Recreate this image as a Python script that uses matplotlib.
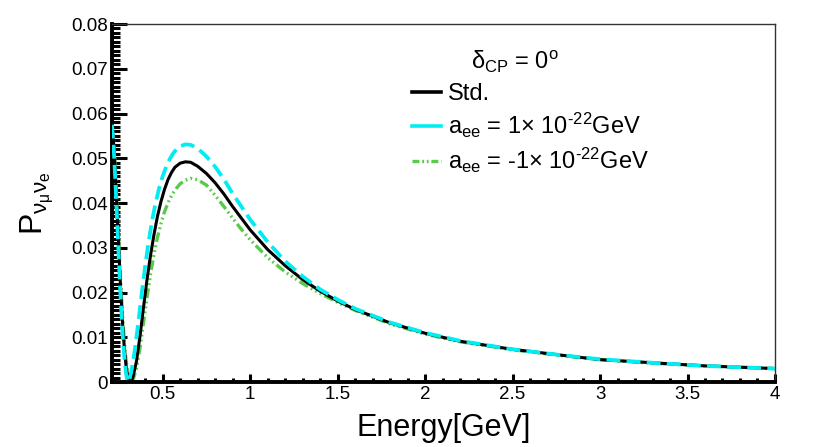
import matplotlib
matplotlib.use("Agg")
import matplotlib.pyplot as plt
from matplotlib.lines import Line2D
from matplotlib.ticker import MultipleLocator, FixedLocator

plt.rcParams["font.family"] = ["Liberation Sans", "DejaVu Sans"]
plt.rcParams["mathtext.fontset"] = "custom"
plt.rcParams["mathtext.rm"] = "Liberation Sans"
plt.rcParams["mathtext.it"] = "Liberation Sans"
plt.rcParams["mathtext.bf"] = "Liberation Sans:bold"
plt.rcParams["lines.scale_dashes"] = False
plt.rcParams["axes.unicode_minus"] = False

# standard oscillation
energy_std = [0.21, 0.22, 0.23, 0.24, 0.25, 0.26, 0.27, 0.28, 0.29, 0.30, 0.31, 0.315,
              0.32, 0.33, 0.35, 0.37, 0.39, 0.41, 0.43, 0.45, 0.47, 0.49, 0.51, 0.53,
              0.55, 0.57, 0.60, 0.63, 0.66, 0.70, 0.75, 0.80, 0.85, 0.90, 0.95, 1.0,
              1.1, 1.2, 1.3, 1.4, 1.5, 1.6, 1.8, 2.0, 2.2, 2.5, 2.8, 3.0, 3.3, 3.6, 4.0]
prob_std = [0.0570, 0.0530, 0.0460, 0.0375, 0.0288, 0.0205, 0.0135, 0.0079, 0.0038, 0.0013,
            0.0001, 0.0000, 0.0002, 0.0011, 0.0046, 0.0102, 0.0166, 0.0228, 0.0282, 0.0329,
            0.0370, 0.0403, 0.0430, 0.0452, 0.0468, 0.0480, 0.0489, 0.0492, 0.0491, 0.0482,
            0.0466, 0.0445, 0.0420, 0.0392, 0.0366, 0.0340, 0.0296, 0.0260, 0.0229, 0.0203,
            0.0181, 0.0162, 0.0132, 0.0109, 0.0091, 0.0073, 0.0059, 0.0050, 0.0043, 0.0036,
            0.0030]

# a_ee = +1e-22 GeV
energy_pos = [0.21, 0.22, 0.23, 0.24, 0.25, 0.26, 0.27, 0.28, 0.29, 0.297, 0.302, 0.31,
              0.32, 0.34, 0.36, 0.38, 0.40, 0.42, 0.44, 0.46, 0.48, 0.50, 0.52, 0.54,
              0.56, 0.58, 0.60, 0.63, 0.66, 0.70, 0.75, 0.80, 0.85, 0.90, 0.95, 1.0,
              1.1, 1.2, 1.3, 1.4, 1.5, 1.6, 1.8, 2.0, 2.2, 2.5, 2.8, 3.0, 3.3, 3.6, 4.0]
prob_pos = [0.0575, 0.0520, 0.0445, 0.0355, 0.0265, 0.0182, 0.0112, 0.0058, 0.0020, 0.0003,
            0.0000, 0.0006, 0.0022, 0.0070, 0.0132, 0.0198, 0.0260, 0.0315, 0.0362, 0.0401,
            0.0434, 0.0460, 0.0481, 0.0498, 0.0511, 0.0521, 0.0527, 0.0531, 0.0530, 0.0522,
            0.0504, 0.0481, 0.0453, 0.0421, 0.0392, 0.0363, 0.0313, 0.0270, 0.0236, 0.0207,
            0.0184, 0.0164, 0.0133, 0.0110, 0.0092, 0.0073, 0.0059, 0.0051, 0.0043, 0.0036,
            0.0030]

# a_ee = -1e-22 GeV
energy_neg = [0.21, 0.22, 0.23, 0.24, 0.25, 0.26, 0.27, 0.28, 0.29, 0.30, 0.31, 0.32,
              0.33, 0.35, 0.37, 0.39, 0.41, 0.43, 0.45, 0.47, 0.49, 0.51, 0.53, 0.55,
              0.57, 0.60, 0.63, 0.66, 0.70, 0.75, 0.80, 0.85, 0.90, 0.95, 1.0, 1.1,
              1.2, 1.3, 1.4, 1.5, 1.6, 1.8, 2.0, 2.2, 2.5, 2.8, 3.0, 3.3, 3.6, 4.0]
prob_neg = [0.0568, 0.0535, 0.0470, 0.0388, 0.0302, 0.0222, 0.0152, 0.0094, 0.0050, 0.0020,
            0.0004, 0.0000, 0.0004, 0.0030, 0.0076, 0.0132, 0.0188, 0.0240, 0.0285, 0.0323,
            0.0354, 0.0380, 0.0400, 0.0416, 0.0429, 0.0443, 0.0451, 0.0455, 0.0452, 0.0440,
            0.0417, 0.0392, 0.0366, 0.0341, 0.0318, 0.0278, 0.0246, 0.0220, 0.0198, 0.0178,
            0.0160, 0.0130, 0.0107, 0.0090, 0.0072, 0.0058, 0.0050, 0.0042, 0.0036, 0.0030]

x_ticks = [0.5, 1, 1.5, 2, 2.5, 3, 3.5, 4]
x_tick_labels = ["0.5", "1", "1.5", "2", "2.5", "3", "3.5", "4"]
y_ticks = [0, 0.01, 0.02, 0.03, 0.04, 0.05, 0.06, 0.07, 0.08]
y_tick_labels = ["0", "0.01", "0.02", "0.03", "0.04", "0.05", "0.06", "0.07", "0.08"]

c_std = "black"
c_pos = "#00eef2"
c_neg = "#58cc4a"
green_dash = (0, (7, 2.5, 1.3, 2.3, 1.3, 2.3, 1.3, 2.5))

fig = plt.figure(figsize=(8.3, 4.47), dpi=100)
ax = fig.add_axes([0.1349, 0.1454, 0.7988, 0.8009])

ax.plot(energy_std, prob_std, color=c_std, lw=2.2, zorder=3)
ax.plot(energy_pos, prob_pos, color=c_pos, lw=2.7, linestyle=(0, (10, 4.5)), zorder=4)
ax.plot(energy_neg, prob_neg, color=c_neg, lw=2.4, linestyle=green_dash, zorder=2)

ax.set_xlim(0.21, 4.0)
ax.set_ylim(0, 0.08)

ax.xaxis.set_major_locator(FixedLocator(x_ticks))
ax.set_xticklabels(x_tick_labels)
ax.xaxis.set_minor_locator(MultipleLocator(0.1))
ax.yaxis.set_major_locator(FixedLocator(y_ticks))
ax.set_yticklabels(y_tick_labels)
ax.yaxis.set_minor_locator(MultipleLocator(0.001))

ax.tick_params(axis="both", which="both", direction="in", top=False, right=False,
               labelsize=13.5, width=2.2, color="black")
ax.tick_params(axis="y", which="major", length=11, pad=3)
ax.tick_params(axis="y", which="minor", length=5.5)
ax.tick_params(axis="x", which="major", length=5.5, pad=3)
ax.tick_params(axis="x", which="minor", length=3)

for side in ["left", "bottom"]:
    ax.spines[side].set_linewidth(2.8)
    ax.spines[side].set_color("black")
for side in ["top", "right"]:
    ax.spines[side].set_linewidth(1.0)
    ax.spines[side].set_color("#333333")

ax.set_xlabel("Energy[GeV]", fontsize=22, labelpad=7)
ax.set_ylabel(r"$\mathrm{P}_{\nu_{\mu}\nu_{e}}$", fontsize=23, labelpad=11)

ax.text(0.542, 0.893, r"$\delta_{\mathrm{CP}}$ = 0$^{\mathrm{o}}$", transform=ax.transAxes,
        fontsize=17, ha="left", va="center")

handles = [
    Line2D([], [], color=c_std, lw=2.6),
    Line2D([], [], color=c_pos, lw=2.6),
    Line2D([], [], color=c_neg, lw=2.4, linestyle=(0, (5, 2, 1.3, 2, 1.3, 2))),
]
labels = [
    "Std.",
    r"a$_{\mathrm{ee}}$ = 1$\times$ 10$^{\text{-22}}$GeV",
    r"a$_{\mathrm{ee}}$ = -1$\times$ 10$^{\text{-22}}$GeV",
]
ax.legend(handles, labels, loc="upper left", bbox_to_anchor=(0.452, 0.834),
          frameon=False, fontsize=17, handlelength=1.25, handletextpad=0.3,
          labelspacing=0.25, borderaxespad=0, borderpad=0)

fig.savefig("out.png", dpi=100)
